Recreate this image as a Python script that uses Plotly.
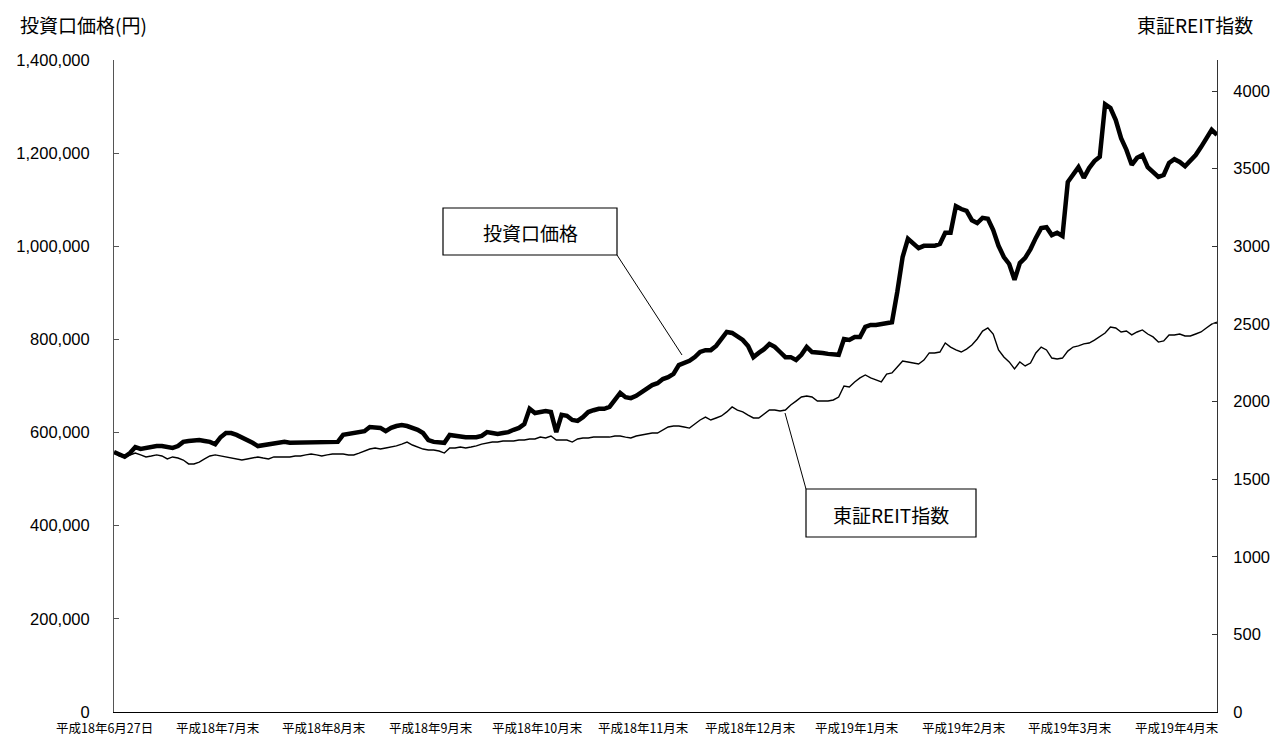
import plotly.graph_objects as go

# ---- data (daily trading days) ----
price = [
    558000, 552000, 548000, 556000, 569000, 565000, 567000, 571000, 571000, 571000,
    569000, 567000, 571000, 580000, 582000, 584000, 584000, 582000, 580000, 575000,
    590000, 599000, 599000, 595000, 590000, 584000, 578000, 571000, 573000, 575000,
    578000, 580000, 580000, 578000, 578000, 578000, 578000, 578000, 578000, 580000,
    580000, 580000, 580000, 595000, 597000, 599000, 599000, 603000, 612000, 610000,
    610000, 603000, 610000, 614000, 616000, 614000, 610000, 606000, 599000, 584000,
    580000, 580000, 578000, 595000, 593000, 590000, 590000, 590000, 590000, 593000,
    601000, 599000, 597000, 599000, 601000, 606000, 610000, 618000, 651000, 642000,
    644000, 646000, 644000, 601000, 638000, 636000, 627000, 625000, 633000, 644000,
    648000, 651000, 651000, 655000, 670000, 685000, 676000, 674000, 679000, 687000,
    696000, 702000, 706000, 715000, 719000, 726000, 745000, 749000, 754000, 762000,
    773000, 777000, 777000, 786000, 801000, 816000, 814000, 807000, 799000, 786000,
    762000, 771000, 779000, 790000, 784000, 773000, 762000, 762000, 756000, 767000,
    784000, 773000, 773000, 771000, 769000, 769000, 767000, 801000, 799000, 805000,
    805000, 827000, 831000, 831000, 833000, 835000, 837000, 902000, 977000, 1016000,
    1005000, 996000, 1001000, 1001000, 1001000, 1005000, 1029000, 1029000, 1086000, 1080000,
    1076000, 1056000, 1050000, 1061000, 1059000, 1035000, 1001000, 977000, 962000, 928000,
    964000, 975000, 994000, 1018000, 1039000, 1041000, 1024000, 1029000, 1022000, 1138000,
    1153000, 1170000, 1147000, 1168000, 1183000, 1192000, 1305000, 1297000, 1271000, 1232000,
    1207000, 1175000, 1190000, 1196000, 1170000, 1159000, 1149000, 1153000, 1179000, 1187000,
    1181000, 1172000, 1185000, 1196000, 1213000, 1232000, 1250000, 1239000,
]

reit = [
    1675, 1649, 1643, 1656, 1668, 1656, 1643, 1649, 1656, 1649,
    1630, 1643, 1636, 1623, 1598, 1598, 1610, 1630, 1649, 1656,
    1649, 1643, 1636, 1630, 1623, 1630, 1636, 1643, 1636, 1630,
    1643, 1643, 1643, 1643, 1649, 1649, 1656, 1662, 1656, 1649,
    1656, 1662, 1662, 1662, 1656, 1656, 1668, 1681, 1694, 1701,
    1694, 1701, 1707, 1714, 1726, 1739, 1720, 1707, 1694, 1688,
    1688, 1681, 1668, 1701, 1701, 1707, 1701, 1707, 1714, 1726,
    1733, 1739, 1739, 1746, 1746, 1746, 1752, 1752, 1759, 1759,
    1771, 1765, 1778, 1752, 1752, 1752, 1739, 1759, 1765, 1765,
    1771, 1771, 1771, 1771, 1778, 1778, 1771, 1765, 1778, 1784,
    1791, 1797, 1797, 1817, 1836, 1842, 1842, 1836, 1829, 1855,
    1881, 1900, 1881, 1894, 1907, 1933, 1965, 1945, 1933, 1913,
    1894, 1894, 1920, 1945, 1945, 1939, 1945, 1978, 2003, 2029,
    2036, 2029, 2003, 2003, 2003, 2010, 2029, 2100, 2094, 2126,
    2152, 2171, 2152, 2139, 2126, 2177, 2184, 2222, 2261, 2255,
    2248, 2242, 2267, 2313, 2313, 2319, 2377, 2351, 2332, 2319,
    2338, 2364, 2403, 2454, 2474, 2435, 2332, 2287, 2255, 2210,
    2255, 2229, 2248, 2313, 2351, 2332, 2280, 2274, 2280, 2325,
    2351, 2358, 2371, 2377, 2396, 2416, 2441, 2480, 2474, 2448,
    2454, 2429, 2448, 2461, 2435, 2416, 2383, 2390, 2429, 2429,
    2435, 2422, 2422, 2435, 2448, 2474, 2499, 2512,
]

x_tick_index = [0, 20, 40, 60, 80, 100, 120, 140, 160, 180, 200]
x_tick_text = [
    "平成18年6月27日", "平成18年7月末", "平成18年8月末", "平成18年9月末",
    "平成18年10月末", "平成18年11月末", "平成18年12月末", "平成19年1月末",
    "平成19年2月末", "平成19年3月末", "平成19年4月末",
]

left_title = "投資口価格(円)"
right_title = "東証REIT指数"
price_label = "投資口価格"
reit_label = "東証REIT指数"

# ---- layout geometry (pixels) ----
W, H = 1271, 736
PL, PR, PT, PB = 114, 1217, 60, 712

def xp(px):
    return (px - PL) / (PR - PL)

def yp(py):
    return (PB - py) / (PB - PT)

JP = "Noto Sans CJK JP"
NUM = "Liberation Sans, Arial"

idx = list(range(len(price)))

fig = go.Figure()
fig.add_trace(go.Scatter(x=idx, y=reit, yaxis="y2", mode="lines",
                         line=dict(color="black", width=1.4), showlegend=False,
                         hoverinfo="skip"))
fig.add_trace(go.Scatter(x=idx, y=price, yaxis="y", mode="lines",
                         line=dict(color="black", width=4.5), showlegend=False,
                         hoverinfo="skip"))

fig.update_layout(
    width=W, height=H,
    margin=dict(l=PL, r=W - PR, t=PT, b=H - PB, autoexpand=False),
    paper_bgcolor="white", plot_bgcolor="white",
    xaxis=dict(range=[0, len(price) - 1], showgrid=False, zeroline=False,
               showline=True, linecolor="black", linewidth=1,
               ticks="", showticklabels=False, automargin=False),
    yaxis=dict(range=[0, 1400000], dtick=200000, tickformat=",d",
               showgrid=False, zeroline=False, showline=True,
               linecolor="#555555", linewidth=1, ticks="inside", ticklen=5,
               tickcolor="#555555",
               tickfont=dict(family=NUM, size=16.5, color="black"),
               ticklabelstandoff=20, automargin=False),
    yaxis2=dict(range=[0, 4200], dtick=500, tickformat="d", overlaying="y",
                side="right", showgrid=False, zeroline=False, showline=True,
                linecolor="#333333", linewidth=1, ticks="inside", ticklen=5,
                tickcolor="#333333",
                tickfont=dict(family=NUM, size=16.5, color="black"),
                ticklabelstandoff=12, automargin=False),
)

# category labels under the x axis (placed at their data index)
for k, (i, t) in enumerate(zip(x_tick_index, x_tick_text)):
    fig.add_annotation(xref="x", yref="paper", x=i, y=0, yanchor="top",
                       xanchor="center", yshift=-5, borderpad=0,
                       xshift=(-10 if k == 0 else -3),
                       showarrow=False, text=t,
                       font=dict(family=JP, size=12.5, color="black"))

# axis titles
fig.add_annotation(xref="paper", yref="paper", x=xp(18), y=yp(25),
                   xanchor="left", yanchor="middle", showarrow=False,
                   text=left_title, font=dict(family=JP, size=19, color="black"))
fig.add_annotation(xref="paper", yref="paper", x=xp(1255), y=yp(25),
                   xanchor="right", yanchor="middle", showarrow=False,
                   text=right_title, font=dict(family=JP, size=19, color="black"))

# callout boxes with leader lines
boxes = [
    (price_label, (443, 208, 617, 255), (617, 255, 682, 355)),
    (reit_label, (806, 489, 976, 537), (806, 489, 785, 413)),
]
for label, (bx0, by0, bx1, by1), (lx0, ly0, lx1, ly1) in boxes:
    fig.add_shape(type="line", xref="paper", yref="paper",
                  x0=xp(lx0), y0=yp(ly0), x1=xp(lx1), y1=yp(ly1),
                  line=dict(color="black", width=1), layer="above")
    fig.add_shape(type="rect", xref="paper", yref="paper",
                  x0=xp(bx0), y0=yp(by1), x1=xp(bx1), y1=yp(by0),
                  line=dict(color="black", width=1.2), fillcolor="white",
                  layer="above")
    fig.add_annotation(xref="paper", yref="paper",
                       x=xp((bx0 + bx1) / 2), y=yp((by0 + by1) / 2 + 1),
                       xanchor="center", yanchor="middle", showarrow=False,
                       text=label, font=dict(family=JP, size=19, color="black"))

fig.write_html("out.html")
